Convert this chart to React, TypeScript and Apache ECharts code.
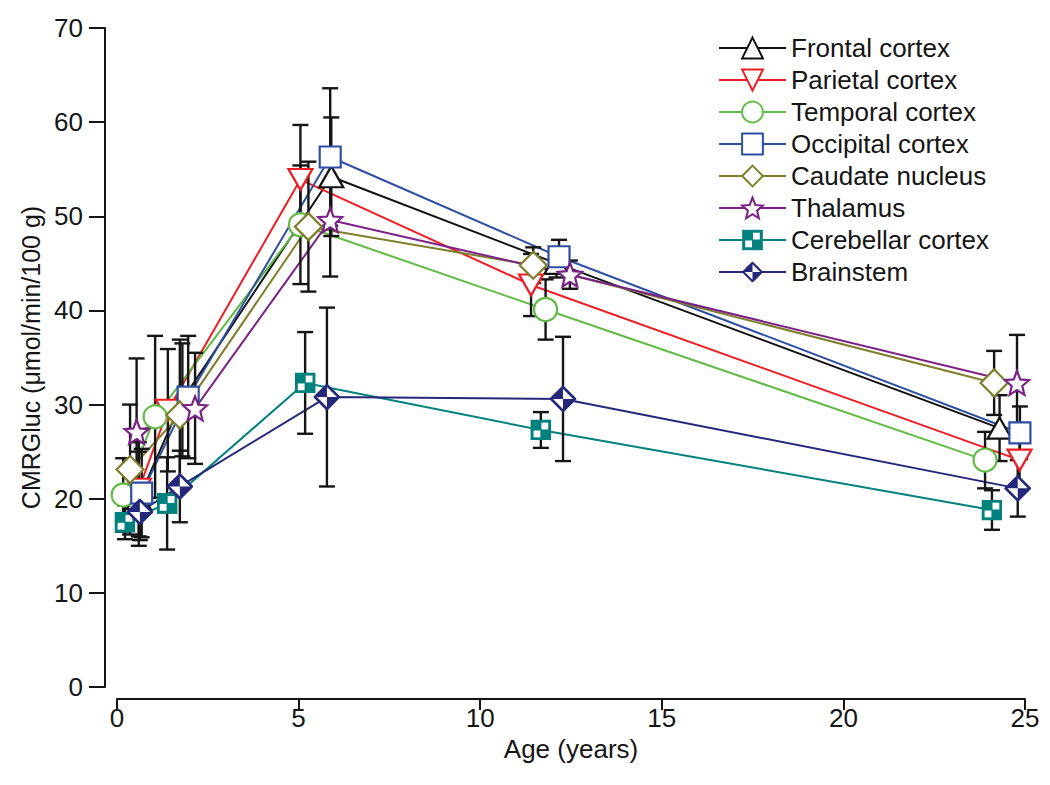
import React, { useEffect, useRef } from "react";
import * as echarts from "echarts";

// ---- data ----
const regionNames = [
  "Frontal cortex",
  "Parietal cortex",
  "Temporal cortex",
  "Occipital cortex",
  "Caudate nucleus",
  "Thalamus",
  "Cerebellar cortex",
  "Brainstem",
];

const frontalAge = [0.6, 1.8, 5.9, 12.1, 24.3];
const frontalVal = [20.0, 30.5, 54.2, 45.0, 27.5];
const frontalErr = [5.0, 6.0, 6.3, 1.5, 3.5];

const parietalAge = [0.6, 1.4, 5.05, 11.4, 24.85];
const parietalVal = [21.0, 29.4, 53.9, 42.7, 24.1];
const parietalErr = [5.0, 6.5, 5.8, 3.3, 3.1];

const temporalAge = [0.17, 1.05, 5.05, 11.8, 23.9];
const temporalVal = [20.4, 28.7, 49.1, 40.1, 24.1];
const temporalErr = [3.9, 8.6, 6.3, 3.2, 3.0];

const occipitalAge = [0.68, 1.96, 5.87, 12.17, 24.86];
const occipitalVal = [20.6, 30.8, 56.3, 45.7, 27.0];
const occipitalErr = [4.7, 6.5, 7.3, 1.8, 2.8];

const caudateAge = [0.36, 1.73, 5.27, 11.46, 24.15];
const caudateVal = [23.1, 28.9, 48.9, 44.8, 32.3];
const caudateErr = [6.9, 8.0, 6.9, 1.9, 3.4];

const thalamusAge = [0.54, 2.15, 5.87, 12.47, 24.78];
const thalamusVal = [27.1, 29.6, 49.6, 43.8, 32.3];
const thalamusErr = [7.8, 5.9, 6.0, 1.5, 5.1];

const cerebellarAge = [0.22, 1.38, 5.18, 11.67, 24.09];
const cerebellarVal = [17.5, 19.5, 32.3, 27.3, 18.8];
const cerebellarErr = [1.8, 4.9, 5.4, 1.9, 2.1];

const brainstemAge = [0.63, 1.73, 5.78, 12.28, 24.8];
const brainstemVal = [18.6, 21.3, 30.8, 30.6, 21.1];
const brainstemErr = [3.0, 3.8, 9.5, 6.6, 3.0];

const xTicks = [0, 5, 10, 15, 20, 25];
const yTicks = [0, 10, 20, 30, 40, 50, 60, 70];

// ---- styling ----
const FONT = "Liberation Sans";
const colors = ["#111111", "#ee1d23", "#62bb46", "#2f4fa2", "#7f7f2b", "#7a2384", "#00817d", "#25287a"];

const svgUri = (svg: string) => "image://data:image/svg+xml;charset=utf-8," + encodeURIComponent(svg);

const cerebellarSymbol = svgUri(
  `<svg xmlns='http://www.w3.org/2000/svg' width='40' height='40' viewBox='0 0 20 20'><rect x='0' y='0' width='20' height='20' fill='#00817d'/><rect x='10.5' y='3' width='6.5' height='6.5' fill='#ffffff'/><rect x='3' y='10.5' width='6.5' height='6.5' fill='#ffffff'/></svg>`
);
const brainstemSymbol = svgUri(
  `<svg xmlns='http://www.w3.org/2000/svg' width='52' height='52' viewBox='0 0 26 26'><polygon points='13,1.5 24.5,13 13,24.5 1.5,13' fill='#ffffff' stroke='#25287a' stroke-width='2.6'/><polygon points='13,1.5 13,13 1.5,13' fill='#25287a'/><polygon points='13,24.5 13,13 24.5,13' fill='#25287a'/></svg>`
);
const starPath =
  "path://M10,0 L12.6,6.4 L19.51,6.91 L14.2,11.4 L15.88,18.09 L10,14.5 L4.12,18.09 L5.8,11.4 L0.49,6.91 L7.4,6.4 Z";
const downTriangle = "path://M0,0 L12,0 L6,11 Z";
const upTriangle = "path://M6,0 L12,11 L0,11 Z";

const symbols = [upTriangle, downTriangle, "circle", "rect", "diamond", starPath, cerebellarSymbol, brainstemSymbol];
const symbolSizes: any[] = [[24, 21], [24, 21], 23, 21, 27, 24, 21, 27];
const filled = [false, false, false, false, false, false, true, true];

const ages = [frontalAge, parietalAge, temporalAge, occipitalAge, caudateAge, thalamusAge, cerebellarAge, brainstemAge];
const vals = [frontalVal, parietalVal, temporalVal, occipitalVal, caudateVal, thalamusVal, cerebellarVal, brainstemVal];
const errs = [frontalErr, parietalErr, temporalErr, occipitalErr, caudateErr, thalamusErr, cerebellarErr, brainstemErr];

export default function App() {
  const ref = useRef<HTMLDivElement>(null);

  useEffect(() => {
    if (!ref.current) return;
    const chart = echarts.init(ref.current, null, { renderer: "svg" });

    const lineSeries = regionNames.map((name, i) => ({
      name,
      type: "line",
      z: 1,
      data: ages[i].map((a, k) => [a, vals[i][k]]),
      symbol: symbols[i],
      symbolSize: symbolSizes[i],
      showSymbol: false,
      lineStyle: { color: colors[i], width: 2 },
      itemStyle: filled[i]
        ? { color: colors[i] }
        : { color: "#ffffff", borderColor: colors[i], borderWidth: 2.2 },
      emphasis: { disabled: true },
    }));

    const errSeries = regionNames.map((name, i) => ({
      name,
      type: "custom",
      z: 2,
      data: ages[i].map((a, k) => [a, vals[i][k] - errs[i][k], vals[i][k] + errs[i][k]]),
      encode: { x: 0, y: [1, 2] },
      renderItem: (params: any, api: any) => {
        const x = api.value(0);
        const top = api.coord([x, api.value(2)]);
        const bot = api.coord([x, api.value(1)]);
        const w = 8;
        const st = { stroke: "#151515", lineWidth: 2.4 };
        return {
          type: "group",
          children: [
            { type: "line", shape: { x1: top[0], y1: top[1], x2: bot[0], y2: bot[1] }, style: st },
            { type: "line", shape: { x1: top[0] - w, y1: top[1], x2: top[0] + w, y2: top[1] }, style: st },
            { type: "line", shape: { x1: bot[0] - w, y1: bot[1], x2: bot[0] + w, y2: bot[1] }, style: st },
          ],
        };
      },
      silent: true,
    }));

    const markerSeries = regionNames.map((name, i) => ({
      name,
      type: "scatter",
      z: 3,
      data: ages[i].map((a, k) => [a, vals[i][k]]),
      symbol: symbols[i],
      symbolSize: symbolSizes[i],
      itemStyle: filled[i]
        ? { color: colors[i], opacity: 1 }
        : { color: "#ffffff", borderColor: colors[i], borderWidth: 2.2, opacity: 1 },
      emphasis: { disabled: true },
    }));

    chart.setOption({
      animation: false,
      backgroundColor: "#ffffff",
      grid: { left: 117, right: 25, top: 28, bottom: 98, containLabel: false },
      legend: {
        data: regionNames,
        orient: "vertical",
        left: 718,
        top: 35,
        padding: 0,
        itemWidth: 67,
        itemHeight: 26,
        itemGap: 6,
        selectedMode: false,
        textStyle: { fontFamily: FONT, fontSize: 26, color: "#151515", lineHeight: 26 },
      },
      xAxis: {
        type: "value",
        min: xTicks[0],
        max: xTicks[xTicks.length - 1],
        interval: 5,
        offset: 12,
        name: "Age (years)",
        nameLocation: "middle",
        nameGap: 37,
        nameTextStyle: { fontFamily: FONT, fontSize: 26, color: "#151515" },
        axisLine: { onZero: false, lineStyle: { color: "#151515", width: 2 } },
        axisTick: { length: 11, lineStyle: { color: "#151515", width: 2 } },
        axisLabel: { fontFamily: FONT, fontSize: 26, color: "#151515", margin: 6 },
        splitLine: { show: false },
      },
      yAxis: {
        type: "value",
        min: yTicks[0],
        max: yTicks[yTicks.length - 1],
        interval: 10,
        offset: 12,
        name: "CMRGluc (μmol/min/100 g)",
        nameLocation: "middle",
        nameGap: 60,
        nameTextStyle: { fontFamily: FONT, fontSize: 25, color: "#151515" },
        axisLine: { show: true, onZero: false, lineStyle: { color: "#151515", width: 2 } },
        axisTick: { show: true, length: 16, lineStyle: { color: "#151515", width: 2 } },
        axisLabel: { fontFamily: FONT, fontSize: 26, color: "#151515", margin: 22 },
        splitLine: { show: false },
      },
      series: [...lineSeries, ...errSeries, ...markerSeries],
    });

    return () => chart.dispose();
  }, []);

  return <div ref={ref} style={{ width: 1050, height: 785, margin: -8 }} />;
}
